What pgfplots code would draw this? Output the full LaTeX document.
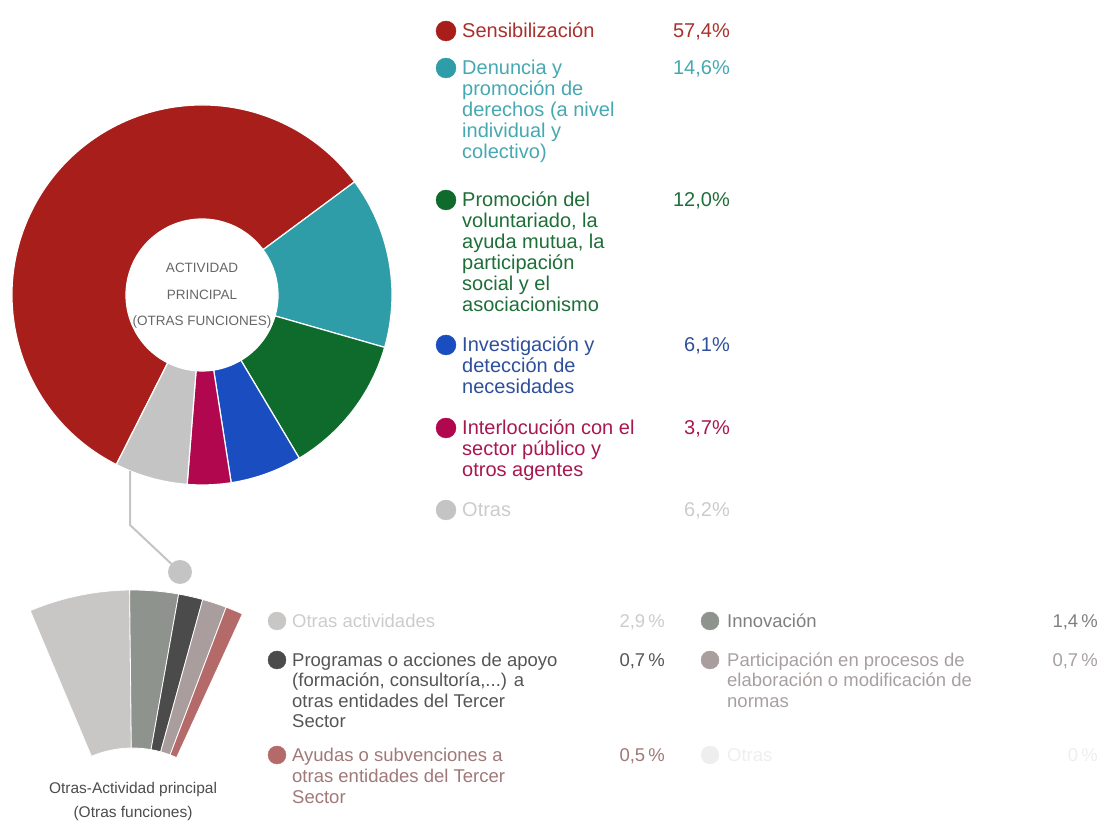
\documentclass[border=0pt]{standalone}
\usepackage{pgfplots}
\pgfplotsset{compat=1.18}
\usepackage{pgfplotstable}
\usepackage{fontspec}
\setmainfont{Liberation Sans}
\usetikzlibrary{calc}

\definecolor{cRed}{HTML}{A81E1A}
\definecolor{cTeal}{HTML}{2E9DA8}
\definecolor{cGreen}{HTML}{0E6B2C}
\definecolor{cBlue}{HTML}{1A4DC0}
\definecolor{cMag}{HTML}{B0074F}
\definecolor{cGray}{HTML}{C4C4C4}
\definecolor{tRed}{HTML}{A8302D}
\definecolor{tTeal}{HTML}{46A8B0}
\definecolor{tGreen}{HTML}{1E6E38}
\definecolor{tBlue}{HTML}{2E4F9A}
\definecolor{tMag}{HTML}{A8174F}
\definecolor{tGray}{HTML}{CCCCCC}
\definecolor{fOtras}{HTML}{C9C6C6}
\definecolor{fInnov}{HTML}{8F938D}
\definecolor{fProg}{HTML}{4B4B4B}
\definecolor{fPart}{HTML}{A99D9D}
\definecolor{fAyud}{HTML}{B56A6A}
\definecolor{bOtras}{HTML}{CCCCCC}
\definecolor{bProg}{HTML}{555555}
\definecolor{bAyud}{HTML}{A07878}
\definecolor{bInnov}{HTML}{7F7F7F}
\definecolor{bPart}{HTML}{A8A0A0}
\definecolor{bFaint}{HTML}{EEEEEE}

% main donut: share in %
\pgfplotstableread{
val col
57.4 cRed
14.6 cTeal
12.0 cGreen
6.1 cBlue
3.7 cMag
6.2 cGray
}\donutdata

% breakdown of "Otras"
\pgfplotstableread{
val col
2.9 fOtras
1.4 fInnov
0.7 fProg
0.7 fPart
0.5 fAyud
}\fandata

% build the donut sectors from the table
\def\donutpaths{}
\def\curang{243.2}
\pgfplotsforeachungrouped \i in {0,...,5}{%
  \pgfplotstablegetelem{\i}{val}\of\donutdata
  \pgfmathsetmacro\nextang{\curang-3.6*\pgfplotsretval}%
  \pgfplotstablegetelem{\i}{col}\of\donutdata
  \colorlet{dcol\i}{\pgfplotsretval}%
  \edef\donutpaths{\unexpanded\expandafter{\donutpaths}%
    \noexpand\fill[fill=dcol\i,draw=white,line width=1.2pt]
    ($(axis cs:202,529)+(\curang:190pt)$) arc[start angle=\curang,end angle=\nextang,radius=190pt]
    -- ($(axis cs:202,529)+(\nextang:76pt)$) arc[start angle=\nextang,end angle=\curang,radius=76pt] -- cycle;}%
  \let\curang\nextang
}

% build the fan sectors from the table (6.2 % spread over 47.4 degrees)
\def\fanpaths{}
\def\curang{112.8}
\pgfplotsforeachungrouped \i in {0,...,4}{%
  \pgfplotstablegetelem{\i}{val}\of\fandata
  \pgfmathsetmacro\nextang{\curang-47.4/6.2*\pgfplotsretval}%
  \pgfplotstablegetelem{\i}{col}\of\fandata
  \colorlet{fcol\i}{\pgfplotsretval}%
  \edef\fanpaths{\unexpanded\expandafter{\fanpaths}%
    \noexpand\fill[fill=fcol\i,draw=white,line width=0.8pt]
    ($(axis cs:132.5,-30)+(\curang:264pt)$) arc[start angle=\curang,end angle=\nextang,radius=264pt]
    -- ($(axis cs:132.5,-30)+(\nextang:106pt)$) arc[start angle=\nextang,end angle=\curang,radius=106pt] -- cycle;}%
  \let\curang\nextang
}

\newcommand\topfont{\fontsize{20}{21}\selectfont}
\newcommand\botfont{\fontsize{18.5}{20.5}\selectfont}
% #1 x, #2 y (image, line centre), #3 colour, #4 text
\newcommand\TL[4]{\node[anchor=base west,inner sep=0pt,text=#3,font=\topfont] at (axis cs:#1,824) [yshift={-(#2+7)*1pt}] {#4};}
\newcommand\TR[4]{\node[anchor=base east,inner sep=0pt,text=#3,font=\topfont] at (axis cs:#1,824) [yshift={-(#2+7)*1pt}] {#4};}
\newcommand\BL[4]{\node[anchor=base west,inner sep=0pt,text=#3,font=\botfont] at (axis cs:#1,824) [yshift={-(#2+6.5)*1pt}] {#4};}
\newcommand\BR[4]{\node[anchor=base east,inner sep=0pt,text=#3,font=\botfont] at (axis cs:#1,824) [yshift={-(#2+6.5)*1pt}] {#4};}

\begin{document}
\begin{tikzpicture}
\begin{axis}[width=1106pt,height=824pt,scale only axis,
  xmin=0,xmax=1106,ymin=0,ymax=824,hide axis,clip=false]

\donutpaths
\fanpaths

% connector from "Otras" slice to the breakdown
\draw[color=cGray,line width=2pt] (axis cs:130,353) -- (axis cs:130,299) -- (axis cs:180,252);
\fill[cGray] (axis cs:180,252) circle[radius=12pt];

% centre label
\node[text=black!60,font=\fontsize{13.5}{14}\selectfont] at (axis cs:202,824) [yshift=-268pt] {ACTIVIDAD};
\node[text=black!60,font=\fontsize{13.5}{14}\selectfont] at (axis cs:202,824) [yshift=-295pt] {PRINCIPAL};
\node[text=black!60,font=\fontsize{13.5}{14}\selectfont] at (axis cs:202,824) [yshift=-322pt] {(OTRAS FUNCIONES)};

% fan label
\node[text=black!70,font=\fontsize{15.5}{16}\selectfont] at (axis cs:133,824) [yshift=-789pt] {Otras-Actividad principal};
\node[text=black!70,font=\fontsize{15.5}{16}\selectfont] at (axis cs:133,824) [yshift=-813pt] {(Otras funciones)};

% legend markers (top)
\addplot[only marks,mark=*,mark size=10pt,color=cRed] coordinates {(446,793)};
\addplot[only marks,mark=*,mark size=10pt,color=cTeal] coordinates {(446,756)};
\addplot[only marks,mark=*,mark size=10pt,color=cGreen] coordinates {(446,624)};
\addplot[only marks,mark=*,mark size=10pt,color=cBlue] coordinates {(446,479)};
\addplot[only marks,mark=*,mark size=10pt,color=cMag] coordinates {(446,396)};
\addplot[only marks,mark=*,mark size=10pt,color=cGray] coordinates {(446,314)};
% legend markers (bottom)
\addplot[only marks,mark=*,mark size=9pt,color=fOtras] coordinates {(277,203)};
\addplot[only marks,mark=*,mark size=9pt,color=fProg] coordinates {(277,164)};
\addplot[only marks,mark=*,mark size=9pt,color=fAyud] coordinates {(277,69)};
\addplot[only marks,mark=*,mark size=9pt,color=fInnov] coordinates {(710,203)};
\addplot[only marks,mark=*,mark size=9pt,color=fPart] coordinates {(710,164)};
\addplot[only marks,mark=*,mark size=9pt,color=bFaint] coordinates {(710,69)};

% top legend text
\TL{462}{31}{tRed}{Sensibilización}
\TR{730}{31}{tRed}{57,4\%}
\TL{462}{68}{tTeal}{Denuncia y}
\TL{462}{89}{tTeal}{promoción de}
\TL{462}{110}{tTeal}{derechos (a nivel}
\TL{462}{131}{tTeal}{individual y}
\TL{462}{152}{tTeal}{colectivo)}
\TR{730}{68}{tTeal}{14,6\%}
\TL{462}{200}{tGreen}{Promoción del}
\TL{462}{221}{tGreen}{voluntariado, la}
\TL{462}{242}{tGreen}{ayuda mutua, la}
\TL{462}{263}{tGreen}{participación}
\TL{462}{284}{tGreen}{social y el}
\TL{462}{305}{tGreen}{asociacionismo}
\TR{730}{200}{tGreen}{12,0\%}
\TL{462}{345}{tBlue}{Investigación y}
\TL{462}{366}{tBlue}{detección de}
\TL{462}{387}{tBlue}{necesidades}
\TR{730}{345}{tBlue}{6,1\%}
\TL{462}{428}{tMag}{Interlocución con el}
\TL{462}{449}{tMag}{sector público y}
\TL{462}{470}{tMag}{otros agentes}
\TR{730}{428}{tMag}{3,7\%}
\TL{462}{510}{tGray}{Otras}
\TR{730}{510}{tGray}{6,2\%}

% bottom legend text
\BL{292}{621}{bOtras}{Otras actividades}
\BR{665}{621}{bOtras}{2,9\,\%}
\BL{292}{660}{bProg}{Programas o acciones de apoyo}
\BL{292}{680}{bProg}{(formación, consultoría,...) a}
\BL{292}{701}{bProg}{otras entidades del Tercer}
\BL{292}{721}{bProg}{Sector}
\BR{665}{660}{bProg}{0,7\,\%}
\BL{292}{755}{bAyud}{Ayudas o subvenciones a}
\BL{292}{776}{bAyud}{otras entidades del Tercer}
\BL{292}{797}{bAyud}{Sector}
\BR{665}{755}{bAyud}{0,5\,\%}
\BL{727}{621}{bInnov}{Innovación}
\BR{1098}{621}{bInnov}{1,4\,\%}
\BL{727}{660}{bPart}{Participación en procesos de}
\BL{727}{680}{bPart}{elaboración o modificación de}
\BL{727}{701}{bPart}{normas}
\BR{1098}{660}{bPart}{0,7\,\%}
\BL{727}{755}{bFaint}{Otras}
\BR{1098}{755}{bFaint}{0\,\%}

\end{axis}
\pgfresetboundingbox
\path (0,0) rectangle (1106pt,824pt);
\end{tikzpicture}
\end{document}
